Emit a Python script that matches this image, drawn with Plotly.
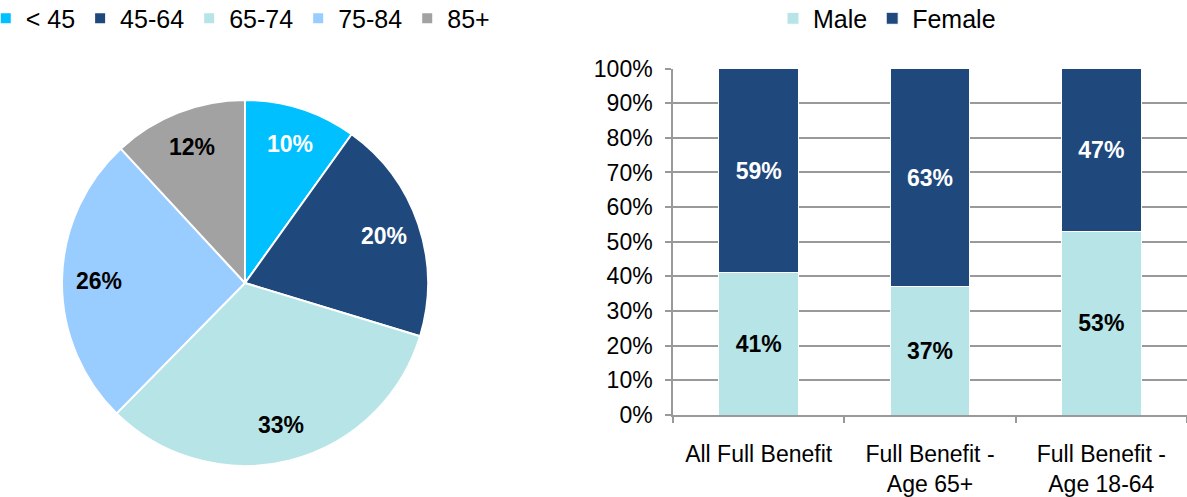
import math
import plotly.graph_objects as go

# ---------- data ----------
age_groups = ["< 45", "45-64", "65-74", "75-84", "85+"]
age_shares = [10, 20, 33, 26, 12]
age_colors = ["#00C0FF", "#1F497D", "#B7E5E7", "#99CCFF", "#A2A2A2"]
age_text_colors = ["white", "white", "black", "black", "black"]

categories = ["All Full Benefit", "Full Benefit -<br>Age 65+", "Full Benefit -<br>Age 18-64"]
male = [41, 37, 53]
female = [59, 63, 47]
male_color = "#B7E5E7"
female_color = "#1F497D"

W, H = 1187, 497
FONT = "Liberation Sans, Arial, sans-serif"

# pie geometry (pixels)
cx, cy, R = 245, 283, 183

fig = go.Figure()

fig.add_trace(go.Pie(
    labels=age_groups, values=age_shares, sort=False, direction="clockwise",
    rotation=0,
    marker=dict(colors=age_colors, line=dict(color="white", width=2)),
    textinfo="none", hoverinfo="label+value",
    domain=dict(x=[(cx - R) / W, (cx + R) / W], y=[1 - (cy + R) / H, 1 - (cy - R) / H]),
    legend="legend",
))

# pie labels placed at 0.8 R along each slice's mid-angle
total = sum(age_shares)
cum = 0
annotations = []
for lab, v, tc in zip(age_groups, age_shares, age_text_colors):
    mid = (cum + v / 2) / total * 2 * math.pi
    cum += v
    px = cx + 0.8 * R * math.sin(mid)
    py = cy - 0.8 * R * math.cos(mid)
    annotations.append(dict(
        x=px / W, y=1 - py / H, xref="paper", yref="paper",
        xanchor="center", yanchor="middle",
        text=f"<b>{v}%</b>", showarrow=False,
        font=dict(family=FONT, size=23, color=tc)))

fig.add_trace(go.Bar(
    name="Male", x=categories, y=male, marker=dict(color=male_color, line=dict(color="white", width=1)),
    text=[f"<b>{v}%</b>" for v in male], textposition="inside", insidetextanchor="middle",
    textfont=dict(family=FONT, size=23, color="black"), legend="legend2",
    xaxis="x", yaxis="y",
))
fig.add_trace(go.Bar(
    name="Female", x=categories, y=female, marker=dict(color=female_color, line=dict(color="white", width=1)),
    text=[f"<b>{v}%</b>" for v in female], textposition="inside", insidetextanchor="middle",
    textfont=dict(family=FONT, size=23, color="white"), legend="legend2",
    xaxis="x", yaxis="y",
))

grid = "#999999"
fig.update_layout(
    width=W, height=H,
    margin=dict(l=0, r=0, t=0, b=0, autoexpand=False),
    paper_bgcolor="white", plot_bgcolor="white",
    font=dict(family=FONT, size=23, color="black"),
    barmode="stack", bargap=0.535,
    uniformtext=dict(minsize=10, mode="show"),
    xaxis=dict(domain=[673 / W, 1.0], range=[-0.5, 2.5], showline=True, linecolor=grid, linewidth=1.5,
               ticks="outside", tickson="boundaries", ticklen=6, tickcolor=grid, tickwidth=1.5,
               tickfont=dict(family=FONT, size=23), ticklabelstandoff=18, showgrid=False, fixedrange=True),
    yaxis=dict(domain=[1 - 415 / H, 1 - 68.5 / H], range=[0, 100], dtick=10, ticksuffix="%",
               showline=True, linecolor=grid, linewidth=1.5, ticks="outside", ticklen=6,
               tickcolor=grid, tickwidth=1.5, showgrid=True, gridcolor=grid, gridwidth=1.5,
               tickfont=dict(family=FONT, size=23), ticklabelstandoff=8, zeroline=False),
    legend=dict(orientation="h", x=-0.012, y=1.009, xanchor="left", yanchor="top",
                font=dict(family=FONT, size=25), traceorder="normal", itemsizing="constant"),
    legend2=dict(orientation="h", x=773 / W, y=1.009, xanchor="left", yanchor="top",
                 font=dict(family=FONT, size=25), traceorder="normal"),
    annotations=annotations,
    showlegend=True,
)

fig.write_html("out.html", config={"displayModeBar": False},
               post_script="document.body.style.margin='0';")
